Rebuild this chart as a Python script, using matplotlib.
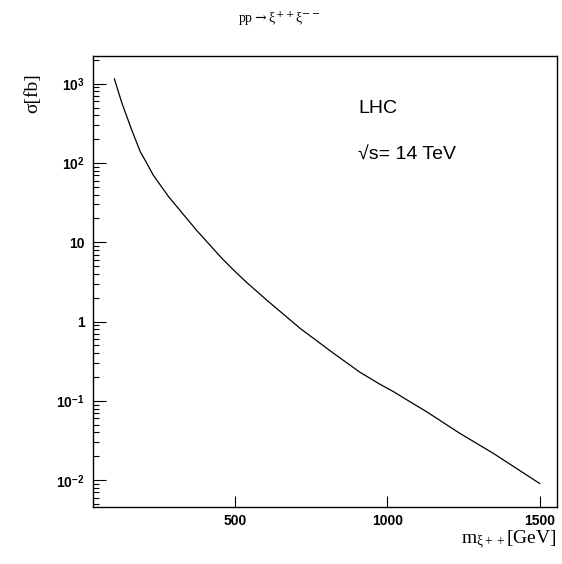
import matplotlib
matplotlib.use("Agg")
import matplotlib.pyplot as plt
from matplotlib.ticker import FixedLocator, LogLocator, NullFormatter, NullLocator

plt.rcParams['mathtext.fontset'] = 'custom'
plt.rcParams['mathtext.rm'] = 'Liberation Sans:bold'
plt.rcParams['mathtext.it'] = 'Liberation Serif:italic'

# values
mass = [104, 129, 161, 189, 210, 232, 282, 375, 457, 495, 539, 604, 714,
        823, 910, 976, 1020, 1070, 1129, 1238, 1348, 1500]
sigma = [1150, 566, 261, 139, 100, 70, 37.6, 14.0, 6.28, 4.48, 3.1, 1.87,
         0.82, 0.40, 0.230, 0.162, 0.131, 0.1, 0.073, 0.039, 0.0218, 0.0091]

xticks = [500, 1000, 1500]
xticklabels = ['500', '1000', '1500']
yticks = [1e3, 1e2, 10, 1, 0.1, 0.01]
yticklabels = [r'$10^{3}$', r'$10^{2}$', '10', '1', r'$10^{-1}$', r'$10^{-2}$']

fig = plt.figure(figsize=(5.62, 5.64), dpi=100)
ax = fig.add_axes([0.165, 0.1016, 0.826, 0.7991])

ax.plot(mass, sigma, color='black', lw=0.9)
ax.set_yscale('log')
ax.set_xlim(33, 1557)
ax.set_ylim(0.00463, 2234)

ax.xaxis.set_major_locator(FixedLocator(xticks))
ax.set_xticklabels(xticklabels, fontfamily='Liberation Sans', fontweight='bold', fontsize=10)
ax.xaxis.set_minor_locator(NullLocator())
ax.yaxis.set_major_locator(FixedLocator(yticks))
ax.set_yticklabels(yticklabels, fontfamily='Liberation Sans', fontweight='bold', fontsize=10)
ax.yaxis.set_minor_locator(LogLocator(base=10, subs=range(2, 10), numticks=20))
ax.yaxis.set_minor_formatter(NullFormatter())

ax.tick_params(which='both', direction='in', top=False, right=False)
ax.tick_params(axis='y', which='major', length=9, width=0.8, pad=6)
ax.tick_params(axis='y', which='minor', length=4.5, width=0.8)
ax.tick_params(axis='x', which='major', length=8, width=0.8, pad=5)
for sp in ax.spines.values():
    sp.set_linewidth(1.0)

fig.text(0.498, 0.968, r'pp$\rightarrow$ξ$^{++}$ξ$^{--}$', ha='center', va='center',
         fontfamily='Liberation Serif', fontsize=10, math_fontfamily='dejavuserif')
fig.text(0.058, 0.835, 'σ[fb]', rotation=90, ha='center', va='center',
         fontfamily='Liberation Serif', fontsize=14)
fig.text(0.99, 0.042, r'm$_{\mathregular{ξ++}}$[GeV]', ha='right', va='center',
         fontfamily='Liberation Serif', fontsize=14)

fig.text(0.637, 0.808, 'LHC', ha='left', va='center',
         fontfamily='Liberation Sans', fontsize=14)
fig.text(0.637, 0.725, '√s= 14 TeV', ha='left', va='center',
         fontfamily='Liberation Sans', fontsize=14)

fig.savefig('out.png', dpi=100, facecolor='white')
